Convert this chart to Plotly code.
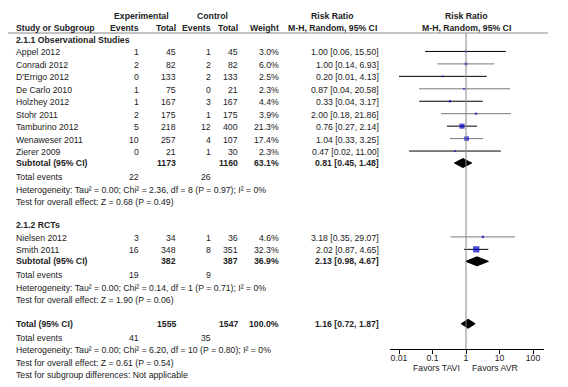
import math
import plotly.graph_objects as go

W, H = 568, 387

# ---------------- data ----------------
studies_obs = ["Appel 2012", "Conradi 2012", "D'Errigo 2012", "De Carlo 2010", "Holzhey 2012",
               "Stohr 2011", "Tamburino 2012", "Wenaweser 2011", "Zierer 2009"]
exp_events_obs = [1, 2, 0, 1, 1, 2, 5, 10, 0]
exp_total_obs = [45, 82, 133, 75, 167, 175, 218, 257, 21]
ctl_events_obs = [1, 2, 2, 0, 3, 1, 12, 4, 1]
ctl_total_obs = [45, 82, 133, 21, 167, 175, 400, 107, 30]
weight_obs = [3.0, 6.0, 2.5, 2.3, 4.4, 3.9, 21.3, 17.4, 2.3]
rr_obs = [1.00, 1.00, 0.20, 0.87, 0.33, 2.00, 0.76, 1.04, 0.47]
lo_obs = [0.06, 0.14, 0.01, 0.04, 0.04, 0.18, 0.27, 0.33, 0.02]
hi_obs = [15.50, 6.93, 4.13, 20.58, 3.17, 21.86, 2.14, 3.25, 11.00]

studies_rct = ["Nielsen 2012", "Smith 2011"]
exp_events_rct = [3, 16]
exp_total_rct = [34, 348]
ctl_events_rct = [1, 8]
ctl_total_rct = [36, 351]
weight_rct = [4.6, 32.3]
rr_rct = [3.18, 2.02]
lo_rct = [0.35, 0.87]
hi_rct = [29.07, 4.65]

subgroup_names = ["2.1.1 Observational Studies", "2.1.2 RCTs"]
sub_rr = [0.81, 2.13]
sub_lo = [0.45, 0.98]
sub_hi = [1.48, 4.67]
sub_het = ["Heterogeneity: Tau\u00b2 = 0.00; Chi\u00b2 = 2.36, df = 8 (P = 0.97); I\u00b2 = 0%",
           "Heterogeneity: Tau\u00b2 = 0.00; Chi\u00b2 = 0.14, df = 1 (P = 0.71); I\u00b2 = 0%"]
sub_test = ["Test for overall effect: Z = 0.68 (P = 0.49)",
            "Test for overall effect: Z = 1.90 (P = 0.06)"]

total_rr, total_lo, total_hi = 1.16, 0.72, 1.87
total_het = "Heterogeneity: Tau\u00b2 = 0.00; Chi\u00b2 = 6.20, df = 10 (P = 0.80); I\u00b2 = 0%"
total_test = "Test for overall effect: Z = 0.61 (P = 0.54)"
subgroup_diff = "Test for subgroup differences: Not applicable"

tick_vals = [0.01, 0.1, 1, 10, 100]
tick_text = ["0.01", "0.1", "1", "10", "100"]
favours_left, favours_right = "Favors TAVI", "Favors AVR"

# ---------------- layout constants ----------------
FONT = "Liberation Sans, Arial, sans-serif"
FS = 8.7
TXT = "#222222"
X_NAME = 15
X_EEV, X_ETOT, X_CEV, X_CTOT, X_WT, X_RR = 140, 177, 212, 239, 280, 380
X_RR_HEAD = 332
PLOT_L, PLOT_R, PLOT_C, DEC = 390, 544, 466, 33.5
AXIS_Y = 349
ROW, SUB_GAP, TE_GAP, SEC_GAP = 12.45, 11, 14, 23.5
DIAM_H = 4.5

fig = go.Figure()
ann = []


def t(x, y, s, anchor="left", bold=False, xref="x2"):
    ann.append(dict(x=x, y=y, xref=xref, yref="y", text=("<b>%s</b>" % s) if bold else s,
                    showarrow=False, xanchor=anchor, yanchor="middle", borderpad=0,
                    font=dict(family=FONT, size=FS, color=TXT)))


# headers
t(141, 16, "Experimental", "center", True)
t(212, 16, "Control", "center", True)
t(X_RR_HEAD, 16, "Risk Ratio", "center", True)
t(PLOT_C, 16, "Risk Ratio", "center", True)
t(X_NAME, 28, "Study or Subgroup", "left", True)
t(X_EEV, 28, "Events", "right", True)
t(X_ETOT, 28, "Total", "right", True)
t(X_CEV, 28, "Events", "right", True)
t(X_CTOT, 28, "Total", "right", True)
t(X_WT, 28, "Weight", "right", True)
t(X_RR_HEAD, 28, "M-H, Random, 95% CI", "center", True)
t(PLOT_C, 28, "M-H, Random, 95% CI", "center", True)

groups = [
    (studies_obs, exp_events_obs, exp_total_obs, ctl_events_obs, ctl_total_obs, weight_obs, rr_obs, lo_obs, hi_obs),
    (studies_rct, exp_events_rct, exp_total_rct, ctl_events_rct, ctl_total_rct, weight_rct, rr_rct, lo_rct, hi_rct),
]

y = 40.0
study_y, study_rr, study_w = [], [], []
ci_idx = 0
diamonds = []
for g, (names, ee, et, ce, ct, wt, rr, lo, hi) in enumerate(groups):
    if g > 0:
        y += SEC_GAP
    t(X_NAME, y, subgroup_names[g], "left", True)
    for i in range(len(names)):
        y += ROW
        t(X_NAME, y, names[i])
        t(X_EEV, y, str(ee[i]), "right")
        t(X_ETOT, y, str(et[i]), "right")
        t(X_CEV, y, str(ce[i]), "right")
        t(X_CTOT, y, str(ct[i]), "right")
        t(X_WT, y, "%.1f%%" % wt[i], "right")
        t(X_RR, y, "%.2f [%.2f, %.2f]" % (rr[i], lo[i], hi[i]), "right")
        fig.add_trace(go.Scatter(x=[lo[i], hi[i]], y=[y - 1, y - 1], mode="lines",
                                 line=dict(color="#000000" if ci_idx % 2 == 0 else "#7a7a7a", width=1),
                                 hoverinfo="skip", xaxis="x", yaxis="y"))
        ci_idx += 1
        study_y.append(y - 1)
        study_rr.append(rr[i])
        study_w.append(wt[i])
    y += SUB_GAP
    t(X_NAME, y, "Subtotal (95% CI)", "left", True)
    t(X_ETOT, y, str(sum(et)), "right", True)
    t(X_CTOT, y, str(sum(ct)), "right", True)
    t(X_WT, y, "%.1f%%" % sum(wt), "right", True)
    t(X_RR, y, "%.2f [%.2f, %.2f]" % (sub_rr[g], sub_lo[g], sub_hi[g]), "right", True)
    diamonds.append((sub_rr[g], sub_lo[g], sub_hi[g], y))
    y += TE_GAP
    t(X_NAME, y, "Total events")
    t(X_EEV, y, str(sum(ee)), "right")
    t(X_CEV, y, str(sum(ce)), "right")
    y += ROW
    t(X_NAME, y, sub_het[g])
    y += ROW
    t(X_NAME, y, sub_test[g])

# overall
all_et = exp_total_obs + exp_total_rct
all_ct = ctl_total_obs + ctl_total_rct
all_ee = exp_events_obs + exp_events_rct
all_ce = ctl_events_obs + ctl_events_rct
y += SEC_GAP
t(X_NAME, y, "Total (95% CI)", "left", True)
t(X_ETOT, y, str(sum(all_et)), "right", True)
t(X_CTOT, y, str(sum(all_ct)), "right", True)
t(X_WT, y, "100.0%", "right", True)
t(X_RR, y, "%.2f [%.2f, %.2f]" % (total_rr, total_lo, total_hi), "right", True)
diamonds.append((total_rr, total_lo, total_hi, y))
y += TE_GAP
t(X_NAME, y, "Total events")
t(X_EEV, y, str(sum(all_ee)), "right")
t(X_CEV, y, str(sum(all_ce)), "right")
y += ROW
t(X_NAME, y, total_het)
y += ROW
t(X_NAME, y, total_test)
y += ROW
t(X_NAME, y, subgroup_diff)

# squares
fig.add_trace(go.Scatter(x=study_rr, y=study_y, mode="markers", hoverinfo="skip",
                         marker=dict(symbol="square", color="#0000c8",
                                     size=[max(1.6, 1.1 * math.sqrt(w)) for w in study_w],
                                     line=dict(width=0)),
                         xaxis="x", yaxis="y"))

# diamonds
for rr, lo, hi, yc in diamonds:
    fig.add_trace(go.Scatter(x=[lo, rr, hi, rr, lo], y=[yc, yc - DIAM_H, yc, yc + DIAM_H, yc],
                             mode="lines", fill="toself", fillcolor="#000000",
                             line=dict(color="#000000", width=1), hoverinfo="skip",
                             xaxis="x", yaxis="y"))

# line of no effect
fig.add_trace(go.Scatter(x=[1, 1], y=[33, AXIS_Y], mode="lines", line=dict(color="#888888", width=1),
                         hoverinfo="skip", xaxis="x", yaxis="y"))
# header rule
fig.add_trace(go.Scatter(x=[8, 548], y=[33, 33], mode="lines", line=dict(color="#888888", width=1),
                         hoverinfo="skip", xaxis="x2", yaxis="y"))

# favours labels
for txt, anc, sh in [(favours_left, "right", -5), (favours_right, "left", 5)]:
    ann.append(dict(x=0, y=368, xref="x", yref="y", text=txt, showarrow=False, xanchor=anc,
                    xshift=sh, yanchor="middle", borderpad=0,
                    font=dict(family=FONT, size=FS, color=TXT)))

lo_log = (PLOT_L - PLOT_C) / DEC
hi_log = (PLOT_R - PLOT_C) / DEC

fig.update_layout(
    width=W, height=H, margin=dict(l=0, r=0, t=0, b=0),
    paper_bgcolor="white", plot_bgcolor="rgba(0,0,0,0)", showlegend=False,
    hovermode=False,
    annotations=ann,
    xaxis=dict(type="log", domain=[PLOT_L / W, PLOT_R / W], range=[lo_log, hi_log],
               anchor="free", position=1 - AXIS_Y / H, showline=True, linecolor="black",
               linewidth=1, ticks="outside", ticklen=4, tickcolor="black",
               ticklabelstandoff=-3,
               tickvals=tick_vals, ticktext=tick_text, showgrid=False, zeroline=False,
               tickfont=dict(family=FONT, size=FS, color=TXT), fixedrange=True),
    xaxis2=dict(domain=[0, 1], range=[0, W], visible=False, anchor="y", fixedrange=True),
    yaxis=dict(domain=[0, 1], range=[H, 0], visible=False, fixedrange=True),
)

fig.write_html("out.html", config={"displayModeBar": False, "staticPlot": True},
               post_script="document.body.style.margin='0px';document.body.style.overflow='hidden';")
